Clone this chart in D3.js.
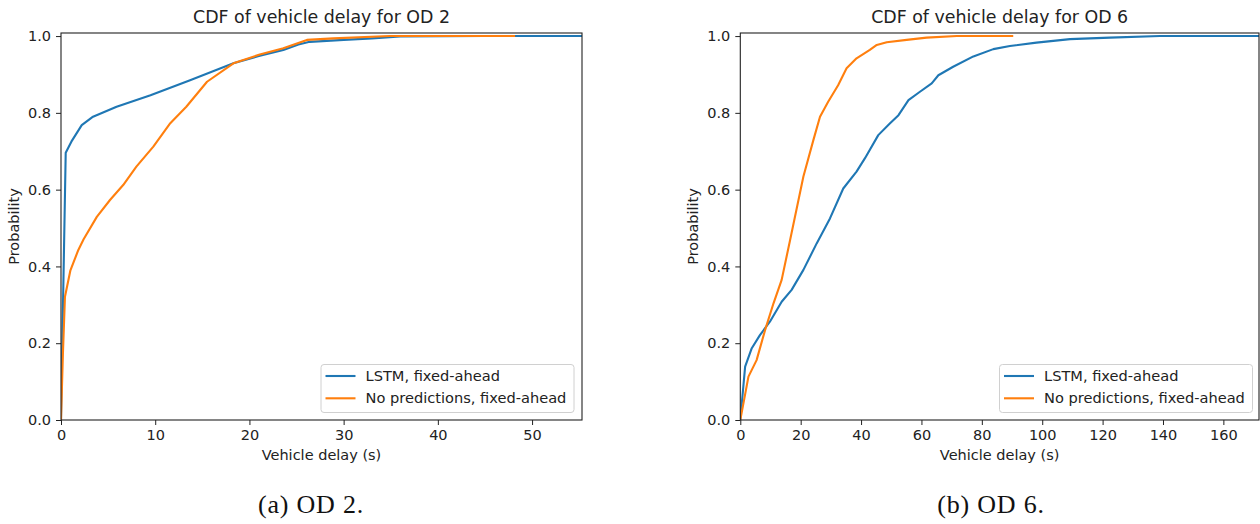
<!DOCTYPE html>
<html>
<head>
<meta charset="utf-8">
<script src="https://cdn.jsdelivr.net/npm/d3@7"></script>
<style>
  body { margin: 0; background: #fff; }
  svg { display: block; }
  .tick text { font-family: "DejaVu Sans", sans-serif; font-size: 14.5px; fill: #222; }
  .tick line { stroke: #222; }
</style>
</head>
<body>
<svg id="fig" width="1260" height="524"></svg>
<script>
// OD 2
var od2LstmDelay = [0, 0.1, 0.3, 0.5, 1.1, 2.2, 3.4, 5.9, 9.5, 13.7, 18.3, 21, 23.6, 25.2, 26.4, 30, 33, 36, 45, 60];
var od2LstmProb  = [0, 0.15, 0.42, 0.696, 0.725, 0.768, 0.79, 0.816, 0.846, 0.885, 0.929, 0.948, 0.964, 0.978, 0.985, 0.99, 0.994, 0.999, 1.0, 1.0];
var od2NoneDelay = [0, 0.2, 0.42, 1.0, 1.84, 2.4, 3.8, 5.2, 6.6, 8.0, 9.8, 11.6, 13.3, 15.5, 18.3, 21.1, 23.6, 26.1, 28.9, 34.9, 48.2];
var od2NoneProb  = [0, 0.17, 0.321, 0.39, 0.443, 0.471, 0.529, 0.573, 0.612, 0.66, 0.712, 0.773, 0.816, 0.881, 0.929, 0.952, 0.968, 0.99, 0.994, 1.0, 1.0];

// OD 6
var od6LstmDelay = [0, 1.6, 3.8, 6.5, 9.8, 13.7, 17, 20.9, 25.3, 29.7, 34.1, 38.5, 41.3, 45.7, 49.6, 52.4, 55.7, 59.5, 63.4, 65.6, 70.5, 77.2, 83.8, 89.3, 98.1, 109.2, 122.4, 139, 180];
var od6LstmProb  = [0, 0.139, 0.187, 0.221, 0.256, 0.308, 0.339, 0.391, 0.46, 0.525, 0.603, 0.647, 0.682, 0.742, 0.773, 0.794, 0.833, 0.855, 0.877, 0.898, 0.92, 0.947, 0.966, 0.974, 0.983, 0.992, 0.996, 1.0, 1.0];
var od6NoneDelay = [0, 2.7, 5.4, 8.2, 11, 13.7, 16.5, 20.9, 24.2, 26.4, 29.1, 32.4, 35.2, 38.5, 42.9, 45.2, 48.5, 55.1, 61.7, 71.7, 90.4];
var od6NoneProb  = [0, 0.113, 0.156, 0.234, 0.304, 0.365, 0.469, 0.634, 0.729, 0.79, 0.829, 0.872, 0.916, 0.942, 0.964, 0.977, 0.984, 0.99, 0.996, 1.0, 1.0];

var seriesNames = ["LSTM, fixed-ahead", "No predictions, fixed-ahead"];
var colors = ["#1f77b4", "#ff7f0e"];
var yTicks = [0, 0.2, 0.4, 0.6, 0.8, 1.0];

var svg = d3.select("#fig");

function zip(xs, ys) {
  return xs.map(function(x, i) { return [x, ys[i]]; });
}

function drawPanel(opt) {
  var left = opt.left, right = opt.right, top = 33, bottom = 420;

  var x = d3.scaleLinear().domain([0, opt.xMax]).range([left, right]);
  var y = d3.scaleLinear().domain([0, 1.008]).range([bottom, top]);

  var g = svg.append("g");

  svg.append("clipPath").attr("id", opt.id)
    .append("rect")
    .attr("x", left).attr("y", top)
    .attr("width", right - left).attr("height", bottom - top);

  var line = d3.line()
    .x(function(d) { return x(d[0]); })
    .y(function(d) { return y(d[1]); });

  opt.series.forEach(function(s, i) {
    g.append("path")
      .datum(s)
      .attr("clip-path", "url(#" + opt.id + ")")
      .attr("fill", "none")
      .attr("stroke", colors[i])
      .attr("stroke-width", 2.1)
      .attr("stroke-linejoin", "round")
      .attr("d", line);
  });

  // spines
  g.append("rect")
    .attr("x", left).attr("y", top)
    .attr("width", right - left).attr("height", bottom - top)
    .attr("fill", "none")
    .attr("stroke", "#222")
    .attr("stroke-width", 1.1);

  var xAxis = g.append("g")
    .attr("transform", "translate(0," + bottom + ")")
    .call(d3.axisBottom(x).tickValues(opt.xTicks).tickSize(5).tickPadding(5).tickFormat(d3.format("d")));
  xAxis.select(".domain").remove();

  var yAxis = g.append("g")
    .attr("transform", "translate(" + left + ",0)")
    .call(d3.axisLeft(y).tickValues(yTicks).tickSize(5).tickPadding(5).tickFormat(d3.format(".1f")));
  yAxis.select(".domain").remove();

  g.append("text")
    .attr("x", (left + right) / 2)
    .attr("y", 23)
    .attr("text-anchor", "middle")
    .style("font-family", "DejaVu Sans, sans-serif")
    .style("font-size", "17.4px")
    .attr("fill", "#222")
    .text(opt.title);

  g.append("text")
    .attr("x", (left + right) / 2)
    .attr("y", 460)
    .attr("text-anchor", "middle")
    .style("font-family", "DejaVu Sans, sans-serif")
    .style("font-size", "14.5px")
    .attr("fill", "#222")
    .text("Vehicle delay (s)");

  g.append("text")
    .attr("transform", "translate(" + (left - 42) + "," + ((top + bottom) / 2) + ") rotate(-90)")
    .attr("text-anchor", "middle")
    .style("font-family", "DejaVu Sans, sans-serif")
    .style("font-size", "14.5px")
    .attr("fill", "#222")
    .text("Probability");

  // legend
  var lg = g.append("g").attr("transform", "translate(" + opt.legendX + ",364)");
  lg.append("rect")
    .attr("x", 0.5).attr("y", 0.5)
    .attr("width", 253).attr("height", 48)
    .attr("rx", 3)
    .attr("fill", "#fff").attr("fill-opacity", 0.8)
    .attr("stroke", "#d0d0d0");
  seriesNames.forEach(function(name, i) {
    var yy = 12 + i * 22.3;
    lg.append("line")
      .attr("x1", 5).attr("x2", 35)
      .attr("y1", yy).attr("y2", yy)
      .attr("stroke", colors[i]).attr("stroke-width", 2.1);
    lg.append("text")
      .attr("x", 45).attr("y", yy + 5)
      .style("font-family", "DejaVu Sans, sans-serif")
      .style("font-size", "14.6px")
      .attr("fill", "#222")
      .text(name);
  });

  svg.append("text")
    .attr("x", opt.captionX)
    .attr("y", 513)
    .attr("text-anchor", "middle")
    .style("font-family", "Liberation Serif, serif")
    .style("font-size", "26px")
    .style("letter-spacing", "0.8px")
    .attr("fill", "#111")
    .text(opt.caption);
}

drawPanel({
  id: "clipA", left: 61, right: 582, xMax: 55.3,
  xTicks: [0, 10, 20, 30, 40, 50],
  title: "CDF of vehicle delay for OD 2",
  series: [zip(od2LstmDelay, od2LstmProb), zip(od2NoneDelay, od2NoneProb)],
  legendX: 320.5, captionX: 311, caption: "(a) OD 2."
});

drawPanel({
  id: "clipB", left: 740.3, right: 1259, xMax: 171.8,
  xTicks: [0, 20, 40, 60, 80, 100, 120, 140, 160],
  title: "CDF of vehicle delay for OD 6",
  series: [zip(od6LstmDelay, od6LstmProb), zip(od6NoneDelay, od6NoneProb)],
  legendX: 999, captionX: 991, caption: "(b) OD 6."
});
</script>
</body>
</html>
